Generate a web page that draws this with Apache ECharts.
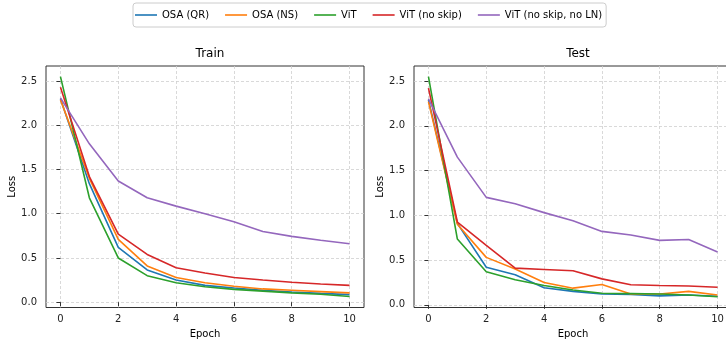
<!DOCTYPE html>
<html>
<head>
<meta charset="utf-8">
<script src="https://cdn.jsdelivr.net/npm/echarts@6/dist/echarts.min.js"></script>
<style>
  html, body { margin: 0; padding: 0; background: #fff; }
  #chart { width: 726px; height: 339px; }
</style>
</head>
<body>
<div id="chart"></div>
<script>
const epochs = [0, 1, 2, 3, 4, 5, 6, 7, 8, 9, 10];
const seriesNames = ['OSA (QR)', 'OSA (NS)', 'ViT', 'ViT (no skip)', 'ViT (no skip, no LN)'];
const seriesColors = ['#1f77b4', '#ff7f0e', '#2ca02c', '#d62728', '#9467bd'];
const xTicks = [0, 2, 4, 6, 8, 10];
const yTicks = [0, 0.5, 1, 1.5, 2, 2.5];

// train loss
const trainOsaQr   = [2.30, 1.34, 0.62, 0.365, 0.25, 0.19, 0.16, 0.135, 0.115, 0.10, 0.086];
const trainOsaNs   = [2.29, 1.40, 0.71, 0.41, 0.28, 0.22, 0.18, 0.15, 0.135, 0.12, 0.105];
const trainVit     = [2.55, 1.18, 0.50, 0.30, 0.22, 0.175, 0.145, 0.125, 0.105, 0.09, 0.065];
const trainNoSkip  = [2.43, 1.42, 0.77, 0.54, 0.39, 0.33, 0.28, 0.25, 0.225, 0.205, 0.19];
const trainNoSkipLn = [2.31, 1.79, 1.37, 1.18, 1.086, 1.00, 0.91, 0.80, 0.744, 0.70, 0.66];

// test loss
const testOsaQr   = [2.29, 0.91, 0.42, 0.335, 0.19, 0.15, 0.12, 0.115, 0.10, 0.11, 0.095];
const testOsaNs   = [2.27, 0.90, 0.53, 0.40, 0.25, 0.186, 0.227, 0.12, 0.12, 0.15, 0.11];
const testVit     = [2.55, 0.735, 0.37, 0.28, 0.215, 0.165, 0.13, 0.125, 0.12, 0.11, 0.09];
const testNoSkip  = [2.42, 0.925, 0.665, 0.41, 0.395, 0.38, 0.29, 0.225, 0.215, 0.21, 0.197];
const testNoSkipLn = [2.30, 1.65, 1.20, 1.13, 1.03, 0.94, 0.82, 0.78, 0.72, 0.73, 0.59];

const trainData = [trainOsaQr, trainOsaNs, trainVit, trainNoSkip, trainNoSkipLn];
const testData = [testOsaQr, testOsaNs, testVit, testNoSkip, testNoSkipLn];

const font = 'DejaVu Sans';
const gridLine = { show: true, lineStyle: { color: '#cfcfcf', width: 0.8, type: [3, 2] } };

function xAxis(idx) {
  return {
    type: 'value', gridIndex: idx, min: -0.5, max: 10.5, splitNumber: 5,
    name: 'Epoch', nameLocation: 'middle', nameGap: 20,
    nameTextStyle: { color: '#000', fontSize: 10, fontFamily: font },
    axisLine: { show: false },
    axisTick: { show: true, length: 4, customValues: xTicks, lineStyle: { color: '#333' } },
    axisLabel: { customValues: xTicks, color: '#222', fontSize: 10, fontFamily: font, margin: 7 },
    splitLine: gridLine
  };
}

function yAxis(idx, min, max) {
  return {
    type: 'value', gridIndex: idx, min: min, max: max, splitNumber: 5,
    name: 'Loss', nameLocation: 'middle', nameGap: 27, nameRotate: 90,
    nameTextStyle: { color: '#000', fontSize: 10, fontFamily: font },
    axisLine: { show: false },
    axisTick: { show: true, length: 4, customValues: yTicks, lineStyle: { color: '#333' } },
    axisLabel: { customValues: yTicks, color: '#222', fontSize: 10, fontFamily: font, margin: 9,
      formatter: (v) => v.toFixed(1) },
    splitLine: gridLine
  };
}

function makeSeries(data, idx) {
  return data.map((vals, i) => ({
    name: seriesNames[i],
    type: 'line',
    xAxisIndex: idx,
    yAxisIndex: idx,
    data: epochs.map((e, j) => [e, vals[j]]),
    symbol: 'none',
    color: seriesColors[i],
    lineStyle: { width: 1.6, color: seriesColors[i] },
    z: 3
  }));
}

const chart = echarts.init(document.getElementById('chart'), null, { renderer: 'canvas' });

const option = {
  animation: false,
  textStyle: { fontFamily: font },
  title: [
    { text: 'Train', left: 205, top: 43, textAlign: 'center',
      textStyle: { fontSize: 12, fontWeight: 'normal', color: '#000', fontFamily: font } },
    { text: 'Test', left: 573, top: 43, textAlign: 'center',
      textStyle: { fontSize: 12, fontWeight: 'normal', color: '#000', fontFamily: font } }
  ],
  legend: {
    data: seriesNames,
    left: 133, top: 3,
    padding: [5, 4, 5, 2],
    icon: 'rect',
    itemWidth: 22, itemHeight: 1.6, itemGap: 16,
    borderColor: '#cccccc', borderWidth: 1, borderRadius: 3,
    textStyle: { fontSize: 10, color: '#000', fontFamily: font, lineHeight: 14 }
  },
  grid: [
    { left: 46, top: 66, width: 318, height: 241.5, outerBoundsMode: 'none', containLabel: false,
      show: true, borderColor: '#333', borderWidth: 1, backgroundColor: 'transparent' },
    { left: 414, top: 66, width: 318, height: 241.5, outerBoundsMode: 'none', containLabel: false,
      show: true, borderColor: '#333', borderWidth: 1, backgroundColor: 'transparent' }
  ],
  xAxis: [xAxis(0), xAxis(1)],
  yAxis: [yAxis(0, -0.06, 2.67), yAxis(1, -0.03, 2.668)],
  series: makeSeries(trainData, 0).concat(makeSeries(testData, 1))
};

chart.setOption(option);
</script>
</body>
</html>
